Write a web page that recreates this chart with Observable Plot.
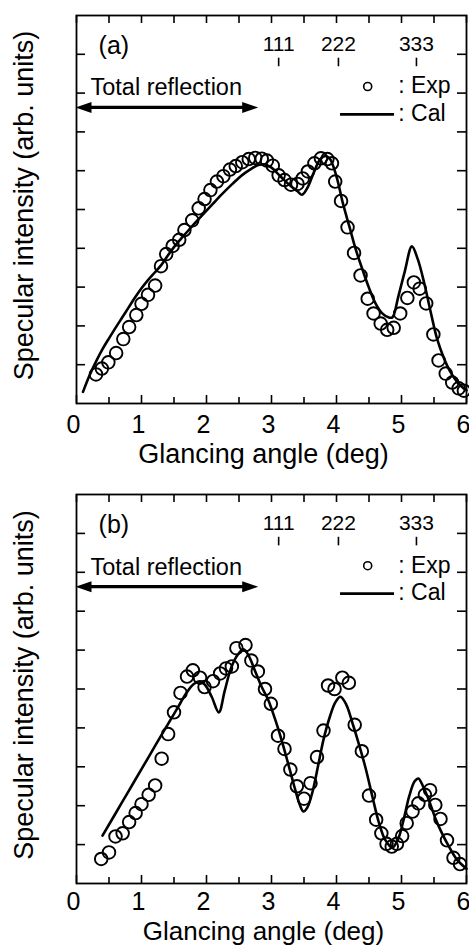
<!DOCTYPE html>
<html>
<head>
<meta charset="utf-8">
<script src="https://cdn.jsdelivr.net/npm/d3@7"></script>
<script src="https://cdn.jsdelivr.net/npm/@observablehq/plot@0.6"></script>
<style>
  body { margin: 0; background: #fff; }
  #chart { width: 469px; }
  #chart svg { display: block; }
</style>
</head>
<body>
<div id="chart"></div>
<script>
// ---- Panel (a): specular intensity vs glancing angle ----
const expA_angle = [0.30,0.39,0.49,0.61,0.72,0.81,0.92,1.00,1.10,1.21,1.30,1.38,1.48,1.58,1.66,1.78,1.88,1.97,2.06,2.16,2.26,2.36,2.45,2.55,2.65,2.75,2.85,2.93,3.02,3.11,3.20,3.30,3.40,3.48,3.56,3.66,3.76,3.86,3.93,3.98,4.07,4.17,4.27,4.37,4.48,4.57,4.68,4.78,4.88,4.98,5.09,5.19,5.28,5.38,5.49,5.57,5.68,5.78,5.88,5.96];
const expA_intensity = [0.75,0.90,1.06,1.30,1.66,1.97,2.28,2.57,2.80,3.04,3.54,3.85,4.06,4.22,4.47,4.72,5.03,5.27,5.50,5.72,5.86,6.03,6.12,6.22,6.30,6.33,6.31,6.26,6.13,5.88,5.76,5.64,5.66,5.80,5.98,6.19,6.32,6.30,6.19,5.72,5.22,4.54,3.88,3.30,2.70,2.32,2.06,1.90,1.95,2.32,2.72,3.12,2.96,2.58,1.78,1.11,0.77,0.54,0.39,0.33];
const calA_angle = [0.10,0.20,0.30,0.40,0.50,0.60,0.70,0.80,0.90,1.00,1.10,1.20,1.30,1.40,1.50,1.60,1.70,1.80,1.90,2.00,2.10,2.20,2.30,2.40,2.50,2.60,2.70,2.80,2.90,3.00,3.10,3.20,3.30,3.40,3.47,3.55,3.65,3.75,3.83,3.90,4.00,4.10,4.20,4.30,4.40,4.50,4.60,4.70,4.80,4.86,4.95,5.05,5.16,5.25,5.35,5.45,5.55,5.65,5.75,5.85,5.95,6.00];
const calA_intensity = [0.30,0.72,1.08,1.40,1.68,1.95,2.21,2.47,2.73,2.97,3.18,3.37,3.56,3.80,4.03,4.23,4.42,4.61,4.79,4.97,5.15,5.33,5.50,5.66,5.82,5.95,6.06,6.15,6.16,6.08,5.92,5.75,5.60,5.47,5.38,5.55,5.95,6.30,6.38,6.30,5.85,5.15,4.55,3.95,3.45,2.98,2.58,2.33,2.22,2.22,2.75,3.40,4.05,3.72,3.10,2.35,1.65,1.18,0.82,0.57,0.40,0.34];

// ---- Panel (b) ----
const expB_angle = [0.38,0.50,0.60,0.71,0.81,0.91,1.00,1.11,1.21,1.31,1.41,1.50,1.60,1.70,1.79,1.90,1.97,2.10,2.21,2.30,2.39,2.46,2.60,2.69,2.79,2.90,2.99,3.10,3.20,3.29,3.39,3.50,3.60,3.70,3.80,3.87,3.97,4.09,4.19,4.28,4.39,4.50,4.61,4.69,4.77,4.85,4.93,5.01,5.08,5.17,5.26,5.36,5.44,5.52,5.60,5.70,5.80,5.90];
const expB_intensity = [0.63,0.80,1.21,1.29,1.58,1.81,2.04,2.28,2.52,3.21,3.84,4.40,4.90,5.32,5.48,5.29,5.05,5.20,5.40,5.53,5.58,6.05,6.13,5.73,5.45,5.00,4.62,3.80,3.46,2.93,2.50,2.18,2.58,3.25,3.93,5.09,5.00,5.29,5.16,4.08,3.40,2.26,1.64,1.29,1.02,0.95,1.02,1.22,1.55,1.85,2.06,2.28,2.40,2.02,1.66,1.11,0.66,0.50];
const calB_angle = [0.40,0.60,0.80,1.00,1.20,1.40,1.55,1.70,1.80,1.90,1.98,2.08,2.19,2.28,2.38,2.48,2.57,2.65,2.75,2.85,2.95,3.05,3.15,3.25,3.35,3.43,3.49,3.55,3.63,3.72,3.80,3.90,3.98,4.06,4.15,4.25,4.35,4.45,4.55,4.65,4.75,4.86,4.95,5.03,5.12,5.20,5.26,5.33,5.42,5.52,5.62,5.72,5.85,6.00];
const calB_intensity = [1.23,1.80,2.37,2.94,3.51,4.08,4.50,4.92,5.12,5.20,5.10,4.80,4.40,4.95,5.55,5.88,6.02,5.85,5.45,5.05,4.72,4.25,3.72,3.12,2.50,2.05,1.85,1.95,2.35,3.05,3.70,4.30,4.65,4.80,4.60,4.10,3.55,2.95,2.25,1.58,1.12,0.92,1.15,1.62,2.25,2.62,2.70,2.50,2.15,1.68,1.30,0.98,0.62,0.38];

// ---- Axes, Bragg reflections and labels ----
const xTickLabels = [0, 1, 2, 3, 4, 5, 6];
const xMinorTicks = [0.5, 1.5, 2.5, 3.5, 4.5, 5.5];
const yTicks = [1, 2, 3, 4, 5, 6, 7, 8, 9];
const braggLabels = ["111", "222", "333"];
const braggAngles = [3.11, 4.03, 5.23];
const criticalAngle = 2.78;   // end of the total-reflection region
const xTitle = "Glancing angle (deg)";
const yTitle = "Specular intensity (arb. units)";

const zip = (xs, ys) => xs.map((x, i) => ({angle: x, intensity: ys[i]}));
const bragg = braggLabels.map((label, i) => ({label, angle: braggAngles[i]}));

// Filled arrow heads, tip at the symbol origin
const headRight = {draw(ctx) { ctx.moveTo(1, 0); ctx.lineTo(-15, -5.5); ctx.lineTo(-15, 5.5); ctx.closePath(); }};
const headLeft  = {draw(ctx) { ctx.moveTo(-1, 0); ctx.lineTo(15, -5.5); ctx.lineTo(15, 5.5); ctx.closePath(); }};
// Short horizontal stroke used as the legend key of the calculated curve
const legendLine = {draw(ctx) { ctx.moveTo(-27, 0); ctx.lineTo(27, 0); }};

const FONT = "'Liberation Sans', Arial, Helvetica, sans-serif";
const W = 469, ML = 76, MR = 3, MT = 15;

function panel({tag, exp, cal, height, marginBottom, tickPadding, titleDy, titleSize}) {
  const PW = W - ML - MR;
  const PH = height - MT - marginBottom;
  return Plot.plot({
    width: W, height,
    marginLeft: ML, marginRight: MR, marginTop: MT, marginBottom,
    x: {domain: [0, 6]},
    y: {domain: [0, 10], axis: null},
    style: {fontFamily: FONT, color: "black", background: "white", overflow: "visible"},
    marks: [
      // inward tick marks on all four sides
      Plot.tickX(xTickLabels, {x: d => d, insetTop: PH - 8, stroke: "black", strokeWidth: 1.6}),
      Plot.tickX(xMinorTicks, {x: d => d, insetTop: PH - 6, stroke: "black", strokeWidth: 1.6}),
      Plot.tickX(xTickLabels.concat(xMinorTicks), {x: d => d, insetBottom: PH - 8, stroke: "black", strokeWidth: 1.6}),
      Plot.tickY(yTicks, {y: d => d, insetRight: PW - 9, stroke: "black", strokeWidth: 1.6}),
      Plot.tickY(yTicks, {y: d => d, insetLeft: PW - 9, stroke: "black", strokeWidth: 1.6}),
      Plot.frame({stroke: "black", strokeWidth: 1.8}),
      Plot.axisX({ticks: xTickLabels, tickSize: 0, tickPadding, fontSize: 25, label: null, dx: -3, tickFormat: d => String(d)}),
      Plot.text([xTitle], {frameAnchor: "bottom", dy: titleDy, dx: -8, lineAnchor: "bottom", fontSize: titleSize}),
      Plot.text([yTitle], {frameAnchor: "left", textAnchor: "middle", rotate: -90, dx: -52, dy: -4, fontSize: 27}),

      // panel tag
      Plot.text([tag], {x: 0.34, y: 9.02, textAnchor: "start", lineAnchor: "bottom", fontSize: 25}),

      // Bragg reflection markers
      Plot.ruleX(bragg, {x: "angle", y1: 8.68, y2: 8.9, stroke: "black", strokeWidth: 1.6}),
      Plot.text(bragg, {x: "angle", y: 9.08, text: "label", lineAnchor: "bottom", fontSize: 21}),

      // total reflection region
      Plot.text(["Total reflection"], {x: 0.215, y: 7.94, textAnchor: "start", lineAnchor: "bottom", fontSize: 23.5}),
      Plot.link([{from: 0.12, to: criticalAngle - 0.12, level: 7.63}], {x1: "from", x2: "to", y1: "level", y2: "level", stroke: "black", strokeWidth: 3.2}),
      Plot.dot([{a: 0, level: 7.63}], {x: "a", y: "level", symbol: headLeft, fill: "black", stroke: "none"}),
      Plot.dot([{a: criticalAngle, level: 7.63}], {x: "a", y: "level", symbol: headRight, fill: "black", stroke: "none"}),

      // legend
      Plot.dot([{a: 4.48, v: 8.17}], {x: "a", y: "v", r: 4, fill: "none", stroke: "black", strokeWidth: 1.6}),
      Plot.text([": Exp"], {x: 4.95, y: 7.99, textAnchor: "start", lineAnchor: "bottom", fontSize: 23}),
      Plot.dot([{a: 4.47, v: 7.45}], {x: "a", y: "v", symbol: legendLine, fill: "none", stroke: "black", strokeWidth: 2.8}),
      Plot.text([": Cal"], {x: 4.95, y: 7.29, textAnchor: "start", lineAnchor: "bottom", fontSize: 23}),

      // calculated curve and measured points
      Plot.line(cal, {x: "angle", y: "intensity", stroke: "black", strokeWidth: 2.6, curve: "catmull-rom"}),
      Plot.dot(exp, {x: "angle", y: "intensity", r: 6.3, fill: "none", stroke: "black", strokeWidth: 1.9})
    ]
  });
}

const chart = document.getElementById("chart");
chart.append(panel({
  tag: "(a)",
  exp: zip(expA_angle, expA_intensity),
  cal: zip(calA_angle, calA_intensity),
  height: 479, marginBottom: 76, tickPadding: 12, titleDy: 59, titleSize: 27
}));
chart.append(panel({
  tag: "(b)",
  exp: zip(expB_angle, expB_intensity),
  cal: zip(calB_angle, calB_intensity),
  height: 468, marginBottom: 64, tickPadding: 9, titleDy: 56, titleSize: 26
}));
</script>
</body>
</html>
